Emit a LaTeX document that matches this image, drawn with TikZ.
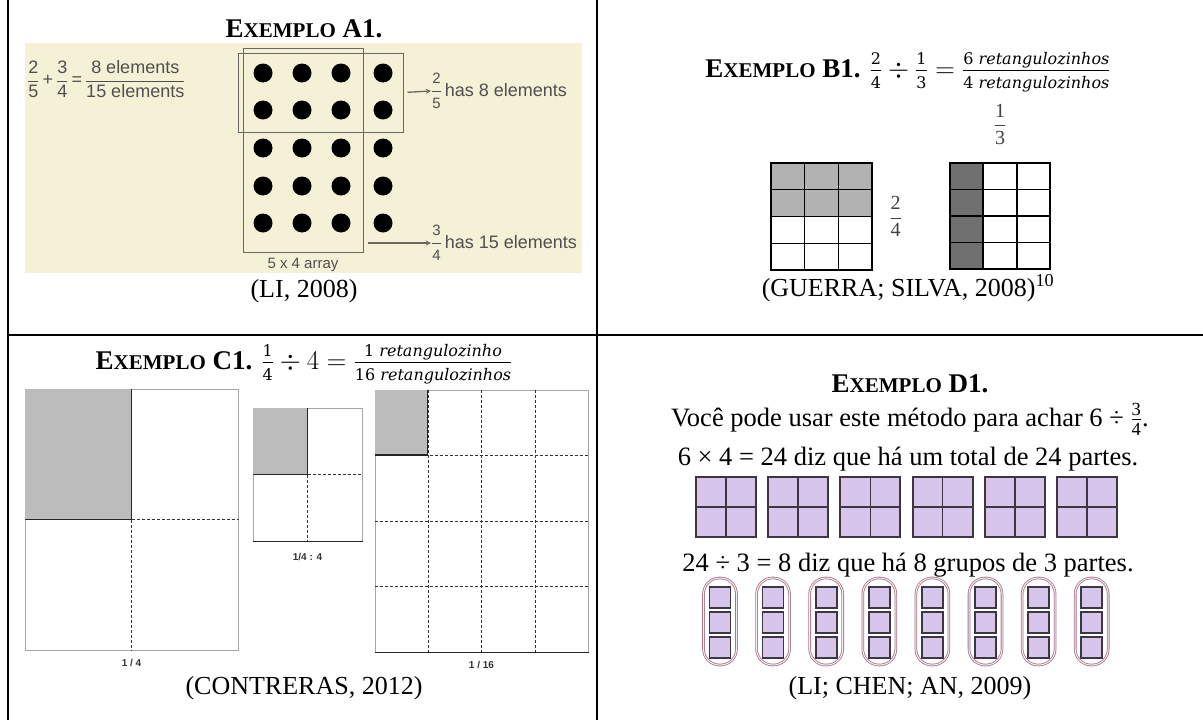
\documentclass[tikz,border=0pt]{standalone}
\usepackage{fix-cm}
\usepackage{amsmath}
\usepackage{fontspec}
\setmainfont{Liberation Serif}
\newfontfamily\arialf{Liberation Sans}
\newfontfamily\cambria{DejaVu Serif}
\usepackage{xcolor}
\usepackage{tikz}
\usetikzlibrary{calc,positioning,arrows,shapes,fit}

\definecolor{beige}{RGB}{245,241,215}
\definecolor{inkgray}{RGB}{80,80,80}
\definecolor{selgray}{RGB}{105,105,100}
\definecolor{lightgr}{RGB}{178,178,178}
\definecolor{darkgr}{RGB}{112,112,112}
\definecolor{shadec}{RGB}{188,188,188}
\definecolor{lilac}{RGB}{216,197,236}
\definecolor{sqline}{RGB}{60,55,65}
\definecolor{ovalc}{RGB}{168,118,140}

\tikzstyle{titletext} = [font=\fontsize{27}{30}\selectfont\bfseries, inner sep=0pt, anchor=base]
\tikzstyle{bodytext} = [font=\fontsize{26.5}{30}\selectfont, inner sep=0pt, anchor=base]
\tikzstyle{captext} = [font=\fontsize{26}{30}\selectfont, inner sep=0pt]
\tikzstyle{greytext} = [font=\arialf\fontsize{18}{22}\selectfont, text=inkgray, inner sep=0pt]
\tikzstyle{fracnum} = [font=\fontsize{20}{24}\selectfont, text=black!75, inner sep=0pt]
\tikzstyle{dotnode} = [circle, fill=black, minimum size=19pt, inner sep=0pt]
\tikzstyle{selbox} = [rectangle, draw=selgray, line width=1pt, inner sep=0pt]
\tikzstyle{arrow} = [selgray, line width=1.3pt, ->, >=stealth]
\tikzstyle{cellgrid} = [black, line width=1.6pt, line cap=rect]
\tikzstyle{framebox} = [rectangle, draw=gray!70, line width=1pt, inner sep=0pt]
\tikzstyle{divl} = [black!85, line width=1.1pt]
\tikzstyle{dashl} = [black!80, line width=0.9pt, dash pattern=on 3pt off 2pt]
\tikzstyle{tagtext} = [font=\arialf\bfseries\fontsize{10}{12}\selectfont, text=black!80, inner sep=0pt]
\tikzstyle{bigsq} = [rectangle, fill=lilac, draw=sqline, line width=2pt, minimum size=60pt, inner sep=0pt]
\tikzstyle{smallsq} = [rectangle, fill=lilac, draw=sqline, line width=1.6pt, minimum size=21pt, inner sep=0pt]
\tikzstyle{grpoval} = [rectangle, rounded corners=16pt, draw=ovalc, line width=0.8pt, double=lilac!30, double distance=1pt, minimum width=33pt, minimum height=87pt, inner sep=0pt]
\tikzstyle{tableline} = [black, line width=2pt]

\newcommand{\exemplo}[1]{E{\fontsize{21}{24}\selectfont XEMPLO}\ #1.}
% small fractions of the titles (Cambria-like)
\newcommand{\cpart}[1]{\text{\cambria\mdseries\fontsize{16}{18}\selectfont #1}}
\newcommand{\titfrac}[2]{\genfrac{}{}{}{1}{\cpart{#1}\rule[-4pt]{0pt}{4pt}}{\cpart{#2}\rule{0pt}{17pt}}}
\newcommand{\ret}[1]{\textit{#1}}
% grey sans fractions of A1
\newcommand{\gfrac}[2]{\dfrac{\text{\fontsize{15}{18}\selectfont #1}}{\text{\fontsize{15}{18}\selectfont #2}}}

\begin{document}
\begin{tikzpicture}[x=1pt, y=-1pt]
\useasboundingbox (0,0) rectangle (1203,720);
\fill[white] (0,0) rectangle (1203,720);

% table rules
\draw[tableline] (8,0) -- (8,720);
\draw[tableline] (597,0) -- (597,720);
\draw[tableline] (8,335) -- (1203,335);

% ---- A1
\fill[beige] (25,43) rectangle (582,273);
\node (titA) [titletext] at (304,37) {\exemplo{A1}};
\node (eqA) [greytext, anchor=west] at (27,79) {$\dfrac{\text{2}}{\text{5}}\,\text{+}\,\dfrac{\text{3}}{\text{4}}\,\text{=}\,\dfrac{\text{8 elements}}{\text{15 elements}}$};
\foreach \c [count=\i] in {263,302,341,383}
  \foreach \r [count=\j] in {73,110,148,186,223}
    \node (dot\i\j) [dotnode] at (\c,\r) {};
\node (box34) [selbox, minimum width=120pt, minimum height=204pt] at (303,150) {};
\node (box25) [selbox, minimum width=165pt, minimum height=79pt] at (320.5,92.5) {};
\node (lab25) [greytext, anchor=west] at (431,91) {$\gfrac{2}{5}$\,has 8 elements};
\node (lab34) [greytext, anchor=west] at (431,243) {$\gfrac{3}{4}$\,has 15 elements};
\draw[arrow, shorten <=4pt] (box25.east) -- (lab25.west);
\draw[arrow, shorten <=4pt] (box34.east |- lab34.west) -- (lab34.west);
\node (arrA) [greytext, font=\arialf\fontsize{15}{18}\selectfont] at (303,265) {5 x 4 array};
\node (capA) [captext] at (304,291) {(LI, 2008)};

% ---- B1
\node (titB) [titletext] at (908,77) {\exemplo{B1} $\titfrac{2}{4}\div\titfrac{1}{3}=\titfrac{6 \ret{retangulozinhos}}{4 \ret{retangulozinhos}}$};
\node (gridL) [rectangle, minimum width=101pt, minimum height=107pt, inner sep=0pt] at (821.5,216.5) {};
\node (gridR) [rectangle, minimum width=100pt, minimum height=106pt, inner sep=0pt] at (1000,216) {};
\fill[lightgr] (gridL.north west) rectangle (gridL.east);
\fill[darkgr] (gridR.north west) rectangle ($(gridR.south west)!1/3!(gridR.south east)$);
\foreach \g in {gridL,gridR} {
  \foreach \k in {0,...,3}
    \draw[cellgrid] ($(\g.north west)!\k/3!(\g.north east)$) -- ($(\g.south west)!\k/3!(\g.south east)$);
  \foreach \k in {0,...,4}
    \draw[cellgrid] ($(\g.north west)!\k/4!(\g.south west)$) -- ($(\g.north east)!\k/4!(\g.south east)$);
}
\node (halfB) [fracnum, right=17pt of gridL] {$\dfrac{\text{2}}{\text{4}}$};
\node (thirdB) [fracnum, above=18pt of gridR] {$\dfrac{\text{1}}{\text{3}}$};
\node (capB) [captext] at (908,288) {(GUERRA; SILVA, 2008)\textsuperscript{10}};

% ---- C1
\node (titC) [titletext] at (304,369) {\exemplo{C1} $\titfrac{1}{4}\div 4=\titfrac{1 \ret{retangulozinho}}{16 \ret{retangulozinhos}}$};
\node (fullC) [framebox, minimum width=213pt, minimum height=261pt] at (131.5,519.5) {};
\fill[shadec] (fullC.north west) rectangle (fullC.center);
\draw[divl] (fullC.north) -- (fullC.center) -- (fullC.west);
\draw[dashl] (fullC.center) -- (fullC.east);
\draw[dashl] (fullC.center) -- (fullC.south);
\node (tagC1) [tagtext, below=9pt of fullC] {1 / 4};

\node (midC) [framebox, minimum width=109pt, minimum height=133pt] at (307.5,474.5) {};
\fill[shadec] (midC.north west) rectangle (midC.center);
\draw[divl] (midC.north) -- (midC.center) -- (midC.west);
\draw[dashl] (midC.center) -- (midC.east);
\draw[dashl] (midC.center) -- (midC.south);
\draw[divl] (midC.south west) -- (midC.south east);
\node (tagC2) [tagtext, below=12pt of midC] {1/4 : 4};

\node (sixC) [framebox, minimum width=213pt, minimum height=262pt] at (481.5,521) {};
\fill[shadec] (sixC.north west) rectangle ($(sixC.north west)!0.25!(sixC.south west) + (53.25,0)$);
\foreach \k in {1,2,3} {
  \draw[dashl] ($(sixC.north west)!\k/4!(sixC.north east)$) -- ($(sixC.south west)!\k/4!(sixC.south east)$);
  \draw[dashl] ($(sixC.north west)!\k/4!(sixC.south west)$) -- ($(sixC.north east)!\k/4!(sixC.south east)$);
}
\draw[divl] ($(sixC.north west)+(53.25,0)$) -- ++(0,65.5) -- ($(sixC.north west)+(0,65.5)$);
\draw[divl] (sixC.south west) -- (sixC.south east);
\node (tagC3) [tagtext, below=9pt of sixC] {1 / 16};
\node (capC) [captext] at (304,688) {(CONTRERAS, 2012)};

% ---- D1
\node (titD) [titletext] at (910,392) {\exemplo{D1}};
\node (lineD1) [bodytext] at (910,426) {Você pode usar este método para achar 6 ÷ $\frac{\text{3}}{\text{4}}$.};
\node (lineD2) [bodytext] at (908,465) {6 × 4 = 24 diz que há um total de 24 partes.};
\foreach \k in {0,...,5} {
  \node (part\k) [bigsq] at (726+\k*72.2,507) {};
  \draw[sqline, line width=1.5pt] (part\k.north) -- (part\k.south);
  \draw[sqline, line width=1.5pt] (part\k.west) -- (part\k.east);
}
\node (lineD3) [bodytext] at (908,571) {24 ÷ 3 = 8 diz que há 8 grupos de 3 partes.};
\foreach \k in {0,...,7} {
  \node (grp\k) [grpoval] at (720+\k*53.1,621.5) {};
  \foreach \j in {0,1,2}
    \node (cell\k\j) [smallsq] at (720+\k*53.1,597.5+\j*25) {};
}
\node (capD) [captext] at (910,688) {(LI; CHEN; AN, 2009)};
\end{tikzpicture}
\end{document}
